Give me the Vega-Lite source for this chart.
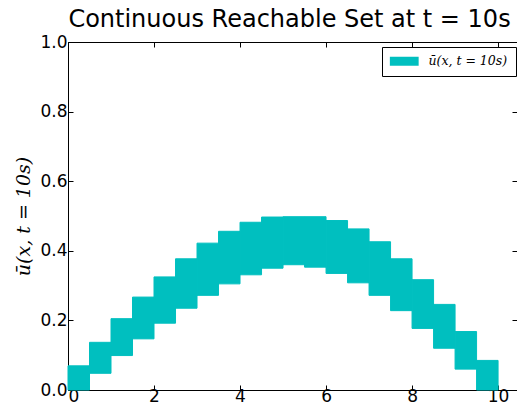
{
  "$schema": "https://vega.github.io/schema/vega-lite/v6.json",
  "autosize": "none",
  "padding": {"left": 68, "top": 42, "right": 0, "bottom": 25},
  "width": 449,
  "height": 348,
  "title": {"text": "Continuous Reachable Set at t = 10s", "font": "DejaVu Sans", "fontSize": 24, "fontWeight": "normal", "color": "#000", "anchor": "middle", "offset": 1, "dx": -3},
  "config": {
    "view": {"stroke": "#000", "strokeWidth": 1},
    "axis": {"grid": false, "domainColor": "#000", "tickColor": "#000", "labelColor": "#000", "labelFont": "DejaVu Sans", "labelFontSize": 17, "tickSize": -5, "labelPadding": 4}
  },
  "data": {"values": [
    {"x0": 0.0, "x1": 0.5, "lo": 0.0, "hi": 0.0695, "series": "ū(x, t = 10s)"},
    {"x0": 0.5, "x1": 1.0, "lo": 0.048, "hi": 0.137, "series": "ū(x, t = 10s)"},
    {"x0": 1.0, "x1": 1.5, "lo": 0.099, "hi": 0.205, "series": "ū(x, t = 10s)"},
    {"x0": 1.5, "x1": 2.0, "lo": 0.147, "hi": 0.267, "series": "ū(x, t = 10s)"},
    {"x0": 2.0, "x1": 2.5, "lo": 0.192, "hi": 0.325, "series": "ū(x, t = 10s)"},
    {"x0": 2.5, "x1": 3.0, "lo": 0.235, "hi": 0.377, "series": "ū(x, t = 10s)"},
    {"x0": 3.0, "x1": 3.5, "lo": 0.272, "hi": 0.422, "series": "ū(x, t = 10s)"},
    {"x0": 3.5, "x1": 4.0, "lo": 0.305, "hi": 0.456, "series": "ū(x, t = 10s)"},
    {"x0": 4.0, "x1": 4.5, "lo": 0.331, "hi": 0.482, "series": "ū(x, t = 10s)"},
    {"x0": 4.5, "x1": 5.0, "lo": 0.350, "hi": 0.497, "series": "ū(x, t = 10s)"},
    {"x0": 5.0, "x1": 5.5, "lo": 0.360, "hi": 0.498, "series": "ū(x, t = 10s)"},
    {"x0": 5.5, "x1": 6.0, "lo": 0.353, "hi": 0.498, "series": "ū(x, t = 10s)"},
    {"x0": 6.0, "x1": 6.5, "lo": 0.335, "hi": 0.487, "series": "ū(x, t = 10s)"},
    {"x0": 6.5, "x1": 7.0, "lo": 0.308, "hi": 0.463, "series": "ū(x, t = 10s)"},
    {"x0": 7.0, "x1": 7.5, "lo": 0.272, "hi": 0.426, "series": "ū(x, t = 10s)"},
    {"x0": 7.5, "x1": 8.0, "lo": 0.228, "hi": 0.377, "series": "ū(x, t = 10s)"},
    {"x0": 8.0, "x1": 8.5, "lo": 0.177, "hi": 0.317, "series": "ū(x, t = 10s)"},
    {"x0": 8.5, "x1": 9.0, "lo": 0.120, "hi": 0.246, "series": "ū(x, t = 10s)"},
    {"x0": 9.0, "x1": 9.5, "lo": 0.060, "hi": 0.168, "series": "ū(x, t = 10s)"},
    {"x0": 9.5, "x1": 10.0, "lo": 0.0, "hi": 0.085, "series": "ū(x, t = 10s)"}
  ]},
  "layer": [
    {
      "mark": {"type": "rect", "stroke": "#00BFBF", "strokeWidth": 1},
      "encoding": {
        "x": {"field": "x0", "type": "quantitative", "scale": {"domain": [0, 10.44], "nice": false, "zero": false}, "axis": {"values": [0, 2, 4, 6, 8, 10], "title": null, "orient": "bottom", "labelPadding": 3}},
        "x2": {"field": "x1"},
        "y": {"field": "lo", "type": "quantitative", "scale": {"domain": [0, 1], "nice": false}, "axis": {"values": [0, 0.2, 0.4, 0.6, 0.8, 1.0], "format": ".1f", "orient": "left", "title": "ū(x, t = 10s)", "titleFont": "DejaVu Serif", "titleFontStyle": "italic", "titleFontWeight": "normal", "titleFontSize": 19, "titleColor": "#000", "titlePadding": 6, "labelPadding": 6}},
        "y2": {"field": "hi"},
        "color": {"field": "series", "type": "nominal", "scale": {"range": ["#00BFBF"]}, "legend": {"title": null, "orient": "none", "legendX": 314, "legendY": 5, "direction": "vertical", "strokeColor": "#000", "fillColor": "#fff", "padding": 8, "symbolType": "M-3.2,-1H3.2V1H-3.2Z", "symbolSize": 81, "symbolOffset": 8, "symbolStrokeWidth": 0, "symbolOpacity": 1, "labelFont": "DejaVu Serif", "labelFontStyle": "italic", "labelFontSize": 12.5, "labelColor": "#000", "labelOffset": 18}}
      }
    },
    {
      "mark": {"type": "rect", "opacity": 0},
      "encoding": {
        "x": {"field": "x0", "type": "quantitative", "axis": {"values": [0, 2, 4, 6, 8, 10], "title": null, "orient": "top", "labels": false}},
        "x2": {"field": "x1"},
        "y": {"field": "lo", "type": "quantitative", "axis": {"values": [0, 0.2, 0.4, 0.6, 0.8, 1.0], "title": null, "orient": "right", "labels": false}},
        "y2": {"field": "hi"}
      }
    }
  ],
  "resolve": {"axis": {"x": "independent", "y": "independent"}}
}
